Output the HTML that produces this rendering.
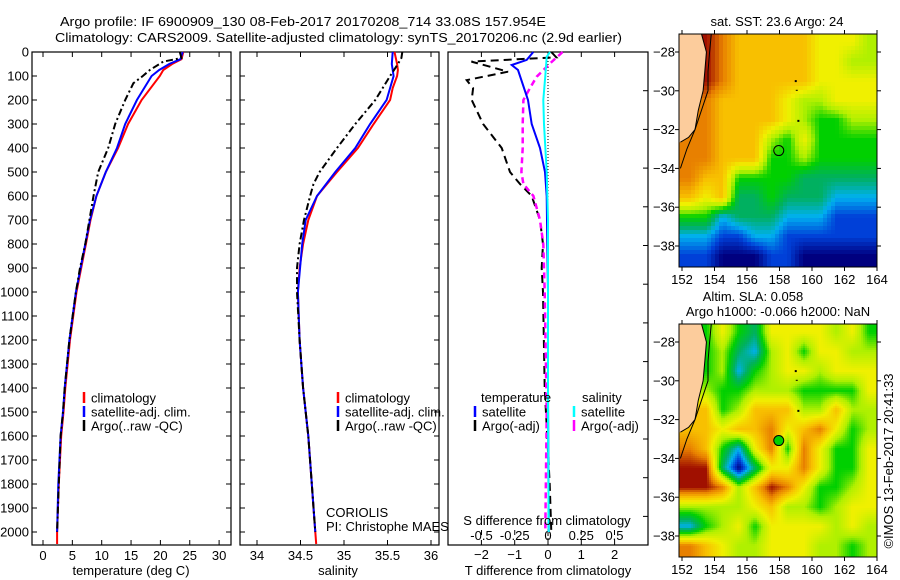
<!DOCTYPE html>
<html><head><meta charset="utf-8"><style>
html,body{margin:0;padding:0;background:#fff;}
svg{display:block;font-family:"Liberation Sans",sans-serif;}
</style></head><body>
<svg id="fig" width="900" height="580" viewBox="0 0 900 580" xmlns="http://www.w3.org/2000/svg">
<g id="titles" font-size="13" fill="#000">
<text x="60" y="26" textLength="486" lengthAdjust="spacingAndGlyphs">Argo profile: IF 6900909_130 08-Feb-2017 20170208_714 33.08S 157.954E</text>
<text x="55" y="42" textLength="567" lengthAdjust="spacingAndGlyphs">Climatology: CARS2009. Satellite-adjusted climatology: synTS_20170206.nc (2.9d earlier)</text>
</g>
<g id="layer"></g>
</svg>
<script>
// ---------- data: temperature panel ----------
const tClimDepth = [0,30,50,75,100,200,300,400,500,600,700,800,900,1000,1200,1400,1500,1600,1800,2000,2050];
const tClimVal   = [23.9,23.6,22,20.5,19.9,16.8,14.5,12.8,10.7,9.1,8.1,7.3,6.5,5.7,4.6,3.8,3.5,3.1,2.7,2.4,2.4];
const tSatDepth  = [0,30,50,75,100,200,300,400,500,600,700,800,900,1000,1200,1400,1500,1600,1800,2000];
const tSatVal    = [23.8,23.4,21.5,19.8,18.5,16.0,14.0,12.6,10.7,9.1,8.0,7.2,6.4,5.6,4.5,3.7,3.4,3.0,2.6,2.4];
const tArgoDepth = [0,25,40,75,100,130,200,300,400,500,600,700,800,900,1000,1200,1400,1500,1600,1800,2000];
const tArgoVal   = [23.3,23.6,20.5,18.2,17,15.4,14,12.3,11.1,9.4,8.6,7.9,7.2,6.3,5.6,4.5,3.7,3.4,3.0,2.7,2.4];
// ---------- data: salinity panel ----------
const sClimDepth = [0,50,75,100,150,200,300,400,500,600,700,800,900,1000,1200,1400,1500,1600,1800,1900,2000,2050];
const sClimVal   = [35.58,35.61,35.62,35.61,35.56,35.53,35.34,35.16,34.92,34.69,34.59,34.53,34.49,34.47,34.49,34.53,34.56,34.59,34.63,34.65,34.67,34.68];
const sSatDepth  = [0,50,100,200,300,400,500,600,700,800,1000,1200,1400,1500,1600,1800,2000];
const sSatVal    = [35.56,35.55,35.57,35.49,35.30,35.13,34.90,34.69,34.56,34.52,34.47,34.49,34.53,34.56,34.59,34.63,34.67];
const sArgoDepth = [0,25,50,100,200,300,400,500,550,600,700,800,900,1000,1200,1400,1500,1600,1800,2000];
const sArgoVal   = [35.67,35.66,35.62,35.53,35.36,35.13,34.92,34.72,34.65,34.61,34.54,34.49,34.46,34.46,34.49,34.53,34.56,34.59,34.63,34.67];
// ---------- data: difference panel ----------
const dTSatDepth = [0,33,54,75,100,200,300,400,500,600,800,1000,1400,2000];
const dTSatVal   = [-0.44,-0.64,-1.09,-0.9,-0.84,-0.6,-0.49,-0.24,-0.09,-0.04,-0.02,0,0,0.02];
const dTArgoDepth = [0,22,40,82,117,151,200,300,400,500,550,600,700,800,900,1000,1400,1800,2000];
const dTArgoVal   = [0.1,0.25,-2.3,-1.2,-2.44,-2.25,-2.29,-1.95,-1.39,-1.14,-0.84,-0.49,-0.24,-0.15,-0.19,-0.15,-0.1,0.05,0.1];
const dSSatDepth = [0,20,100,200,300,500,700,1000,1500,2000];
const dSSatVal   = [0.015,-0.01,-0.02,-0.035,-0.03,-0.01,0,0,0,0.005];
const dSArgoDepth = [0,40,103,150,200,300,400,500,550,600,700,800,1000,1500,2000];
const dSArgoVal   = [0.11,0.03,-0.085,-0.135,-0.185,-0.19,-0.19,-0.2,-0.185,-0.11,-0.06,-0.035,-0.025,-0.01,-0.02];
// ---------- data: axes ----------
const depthTicks = [0,100,200,300,400,500,600,700,800,900,1000,1100,1200,1300,1400,1500,1600,1700,1800,1900,2000];
const tempTicks = [0,5,10,15,20,25,30];
const salTicks = [34,34.5,35,35.5,36];
const salTickLabels = ["34","34.5","35","35.5","36"];
const dTTicks = [-2,-1,0,1,2];
const dSTicks = [-0.5,-0.25,0,0.25,0.5];
const dSTickLabels = ["-0.5","-0.25","0","0.25","0.5"];
// ---------- data: maps (rows lat -27.5..-38.5, cols lon 152.5..163.5; -1 = land) ----------
const sstGrid = [
 [-1,9,8,7,7,7,7,7,6,6,6,5],
 [-1,9,8,7,7,7,7,7,6,6,5,5],
 [-1,9,8,7,7,7,7,7,6,6,6,6],
 [-1,8,7,7,7,7,6,5,5,6,6,6],
 [-1,8,7,7,7,7,6,5,4,4,5,5],
 [8,8,7,7,7,5,4,6,4,4,4,4],
 [8,8,7,7,7,4,4,5,4,4,4,4],
 [8,7,7,4,4,4,4,3,3,3,3,3],
 [7,6,7,3,3,4,3,3,3,2,2,2],
 [4,4,2,3,3,3,2,2,2,1,1,1],
 [2,2,1,1,2,2,1,1,1,1,1,1],
 [1,1,0,0,0,1,1,0,0,0,0,0]];
const slaGrid = [
 [-1,4,6,4,3,6,6,6,6,5,6,4],
 [-1,4,5,3,2,5,6,4,6,6,5,5],
 [-1,4,5,2,4,5,6,6,5,6,6,6],
 [-1,5,4,4,5,5,5,4,4,4,4,6],
 [-1,7,4,5,7,7,7,5,5,7,5,5],
 [7,7,6,7,7,8,6,7,8,6,4,5],
 [8,7,4,2,6,8,4,8,6,4,4,6],
 [9,9,3,0,3,6,6,8,6,4,4,6],
 [9,9,8,5,7,9,8,6,4,4,5,6],
 [5,5,5,5,6,7,5,5,4,5,6,6],
 [2,4,5,6,4,6,6,6,6,5,6,5],
 [8,7,6,5,5,6,6,6,5,5,4,5]];
const lonTicks = [152,154,156,158,160,162,164];
const latTicks = [-28,-30,-32,-34,-36,-38];
const coastLon = [153.2,153.5,153.4,153.3,153.0,152.8,152.4,151.9];
const coastLat = [-27.07,-28,-29,-30,-31,-32,-32.4,-32.65];
const shelfLon = [153.8,153.7,153.6,153.6,153.2,152.8,152.3,151.9];
const shelfLat = [-27.07,-28,-29,-30,-31,-32,-33,-34];
const argoLon = 157.954, argoLat = -33.08;

const NS = "http://www.w3.org/2000/svg";
const L = document.getElementById('layer');
function mk(tag, attrs, parent){ const e=document.createElementNS(NS,tag); for(const k in attrs) e.setAttribute(k,attrs[k]); (parent||L).appendChild(e); return e; }
function txt(x,y,s,anchor,parent,size){ const e=mk('text',{x:x,y:y,'text-anchor':anchor||'start','font-size':size||13},parent); e.textContent=s; return e; }

const yD = d => 52 + d*0.24;
const xT = t => 43 + t*5.87;
const xS = s => 257 + (s-34)*87;
const xDT = t => 548 + t*33.3;
const xDS = s => 548 + s*133;
const TOP=52, BOT=545;

function panel(x0,x1,name){
  const g=mk('g',{});
  
  
  const r=mk('rect',{x:x0,y:TOP,width:x1-x0,height:BOT-TOP,fill:'none',stroke:'#000','stroke-width':1.2},g);
  
  
  return g;
}
function line(depths, vals, xf, color, dash, w, g, name){
  const pts = depths.map((d,i)=> xf(vals[i]).toFixed(1)+','+yD(d).toFixed(1)).join(' ');
  const p=mk('polyline',{points:pts,fill:'none',stroke:color,'stroke-width':w||2,'stroke-dasharray':dash||'none'},g);
  
  
}
function depthTickMarks(x0,x1,g,labels){
  depthTicks.forEach(d=>{
    mk('line',{x1:x0,x2:x0+5,y1:yD(d),y2:yD(d),stroke:'#000'},g);
    mk('line',{x1:x1,x2:x1-5,y1:yD(d),y2:yD(d),stroke:'#000'},g);
    if(labels){ const t=txt(29,yD(d)+4.5,String(d),'end',g);   }
  });
}
function xTickMarks(vals,xf,g,labels,ly){
  vals.forEach((v,i)=>{
    const x=xf(v);
    mk('line',{x1:x,x2:x,y1:TOP,y2:TOP+5,stroke:'#000'},g);
    mk('line',{x1:x,x2:x,y1:BOT,y2:BOT-5,stroke:'#000'},g);
    const t=txt(x,ly,labels?labels[i]:String(v),'middle',g);
    
    
  });
}
function legendEntry(x,y,color,label,g){
  const e=mk('g',{},g);
  
  
  mk('line',{x1:x,x2:x,y1:y-6,y2:y+5,stroke:color,'stroke-width':2.5},e);
  txt(x+7,y+4.5,label,'start',e);
}

// Panel 1 temperature
let g1=panel(32,231,'temperature-panel');
depthTickMarks(32,231,g1,true);
xTickMarks(tempTicks,xT,g1,null,560);
line(tClimDepth,tClimVal,xT,'#ff0000',null,2,g1,'temp-climatology-line');
line(tSatDepth,tSatVal,xT,'#0000ff',null,2,g1,'temp-satellite-line');
line(tArgoDepth,tArgoVal,xT,'#000','7,3,2,3',2,g1,'temp-argo-line');
let a1=txt(131,575,'temperature (deg C)','middle',g1);  
let lg1=mk('g',{},g1);  
legendEntry(84,398,'#ff0000','climatology',lg1);
legendEntry(84,412,'#0000ff','satellite-adj. clim.',lg1);
legendEntry(84,426,'#000','Argo(..raw -QC)',lg1);

// Panel 2 salinity
let g2=panel(240,439,'salinity-panel');
depthTickMarks(240,439,g2,false);
xTickMarks(salTicks,xS,g2,salTickLabels,560);
line(sClimDepth,sClimVal,xS,'#ff0000',null,2,g2,'sal-climatology-line');
line(sSatDepth,sSatVal,xS,'#0000ff',null,2,g2,'sal-satellite-line');
line(sArgoDepth,sArgoVal,xS,'#000','7,3,2,3',2,g2,'sal-argo-line');
let a2=txt(338,575,'salinity','middle',g2);  
let lg2=mk('g',{},g2);  
legendEntry(338,398,'#ff0000','climatology',lg2);
legendEntry(338,412,'#0000ff','satellite-adj. clim.',lg2);
legendEntry(338,426,'#000','Argo(..raw -QC)',lg2);
let c1=txt(326,517,'CORIOLIS','start',g2);  
let c2=txt(326,531,'PI: Christophe MAES','start',g2);  

// Panel 3 differences
let g3=panel(448,648,'difference-panel');
for(let k=0;k<13;k++){ const y=52+38.7*k; if(y<BOT) mk('line',{x1:648,x2:643,y1:y,y2:y,stroke:'#000'},g3); }
mk('line',{x1:548,x2:548,y1:TOP,y2:BOT,stroke:'#000','stroke-dasharray':'1,2'},g3);
dTTicks.forEach(v=>{ const x=xDT(v); mk('line',{x1:x,x2:x,y1:BOT,y2:BOT-5,stroke:'#000'},g3); mk('line',{x1:x,x2:x,y1:TOP,y2:TOP+5,stroke:'#000'},g3);
  const t=txt(x,559,v<0?'\u2212'+Math.abs(v):String(v),'middle',g3);   });
dSTicks.forEach((v,i)=>{ const x=xDS(v); mk('line',{x1:x,x2:x,y1:BOT-10,y2:BOT-15,stroke:'#000'},g3);
  const t=txt(x,540,dSTickLabels[i],'middle',g3);   });
line(dTArgoDepth,dTArgoVal,xDT,'#000','8,5',2,g3,'t-diff-argo-line');
line(dSArgoDepth,dSArgoVal,xDS,'#ff00ff','6,4',2.5,g3,'s-diff-argo-line');
line(dTSatDepth,dTSatVal,xDT,'#0000ff',null,2,g3,'t-diff-satellite-line');
line(dSSatDepth,dSSatVal,xDS,'#00ffff',null,2,g3,'s-diff-satellite-line');
let s1=txt(547,525,'S difference from climatology','middle',g3);  
let s2=txt(548,575,'T difference from climatology','middle',g3);  
let lg3=mk('g',{},g3);  
txt(481,402,'temperature','start',lg3);
txt(582,402,'salinity','start',lg3);
legendEntry(475,412,'#0000ff','satellite',lg3);
legendEntry(475,426,'#000','Argo(-adj)',lg3);
legendEntry(574,412,'#00ffff','satellite',lg3);
legendEntry(574,426,'#ff00ff','Argo(-adj)',lg3);

// ---------- maps ----------
const pal=[[0,0,127],[0,64,216],[0,176,240],[0,176,96],[0,208,0],[176,240,0],[240,240,0],[248,192,0],[232,128,0],[160,16,0]];
function colorOf(v){ v=Math.max(0,Math.min(9,v)); const i=Math.min(8,Math.floor(v)), f=v-i; const a=pal[i], b=pal[i+1];
  return 'rgb('+a.map((c,k)=>Math.round(c+(b[k]-c)*f)).join(',')+')'; }
const mx = lon => 682 + (lon-152)*16.25;
function drawMap(grid, y0, name, smooth){
  const g=mk('g',{});
  
  
  const my = lat => y0+18 + (-28-lat)*19.4;
  const X0=679, X1=877, Y0=y0, Y1=y0+233;
  const val=(r,c)=>{ r=Math.max(0,Math.min(11,r)); c=Math.max(0,Math.min(11,c)); let v=grid[r][c]; if(v<0){ v=grid[r][c+1]; } return v; };
  const step=smooth?2:4;
  for(let y=Y0;y<Y1;y+=step){ for(let x=X0;x<X1;x+=step){
    const lon=152+(x+step/2-682)/16.25, lat=-28-(y+step/2-(y0+18))/19.4;
    const fc=lon-152.5, fr=(-27.5)-lat;
    const c0=Math.floor(fc), r0=Math.floor(fr), dc=fc-c0, dr=fr-r0;
    const v=val(r0,c0)*(1-dc)*(1-dr)+val(r0,c0+1)*dc*(1-dr)+val(r0+1,c0)*(1-dc)*dr+val(r0+1,c0+1)*dc*dr;
    const w=Math.min(step,X1-x), h=Math.min(step,Y1-y);
    const cell=mk('rect',{x:x,y:y,width:w,height:h,fill:colorOf(v)},g);
    
    
  }}
  let pts=coastLon.map((lo,i)=>mx(lo).toFixed(1)+','+my(coastLat[i]).toFixed(1));
  const land=mk('polygon',{points:X0+','+Y0+' '+pts.join(' ')+' '+X0+','+my(-32.65).toFixed(1),fill:'#fccc9c'},g);
  
  
  const cl=mk('polyline',{points:pts.join(' '),fill:'none',stroke:'#000','stroke-width':1},g);
  
  
  const sh=mk('polyline',{points:shelfLon.map((lo,i)=>mx(lo).toFixed(1)+','+my(shelfLat[i]).toFixed(1)).join(' '),fill:'none',stroke:'#000','stroke-width':1},g);
  
  
  mk('rect',{x:mx(159)-1,y:my(-29.5)-1,width:2,height:2,fill:'#000'},g);
  mk('rect',{x:mx(159),y:my(-30)-1,width:2,height:1,fill:'#000'},g);
  mk('rect',{x:mx(159.1),y:my(-31.55)-1,width:2,height:2,fill:'#000'},g);
  mk('rect',{x:X0,y:Y0,width:X1-X0,height:Y1-Y0,fill:'none',stroke:'#000'},g);
  lonTicks.forEach(lo=>{ const x=mx(lo); mk('line',{x1:x,x2:x,y1:Y1,y2:Y1+4,stroke:'#000'},g); mk('line',{x1:x,x2:x,y1:Y0,y2:Y0-4,stroke:'#000'},g);
    const t=txt(x,Y1+17,String(lo),'middle',g);   });
  latTicks.forEach(la=>{ const y=my(la); mk('line',{x1:X0,x2:X0-4,y1:y,y2:y,stroke:'#000'},g); mk('line',{x1:X1,x2:X1+4,y1:y,y2:y,stroke:'#000'},g);
    const t=txt(675,y+4.5,'\u2212'+Math.abs(la),'end',g);   });
  const c=mk('circle',{cx:mx(argoLon),cy:my(argoLat),r:5,fill:smooth?colorOf(4):'none',stroke:'#000','stroke-width':1},g);
  
  
  return g;
}
drawMap(sstGrid,34,'sst-map',false);
drawMap(slaGrid,324,'sla-map',true);
let mt1=txt(777,26,'sat. SST: 23.6 Argo: 24','middle');  
let mt2=txt(753,301,'Altim. SLA: 0.058','middle');  
let mt3=txt(778,316,'Argo h1000: -0.066 h2000: NaN','middle');  
let cp=txt(0,0,'\u00a9IMOS 13-Feb-2017 20:41:33','middle'); cp.setAttribute('transform','translate(893,461) rotate(-90)');
 
</script>
</body></html>
